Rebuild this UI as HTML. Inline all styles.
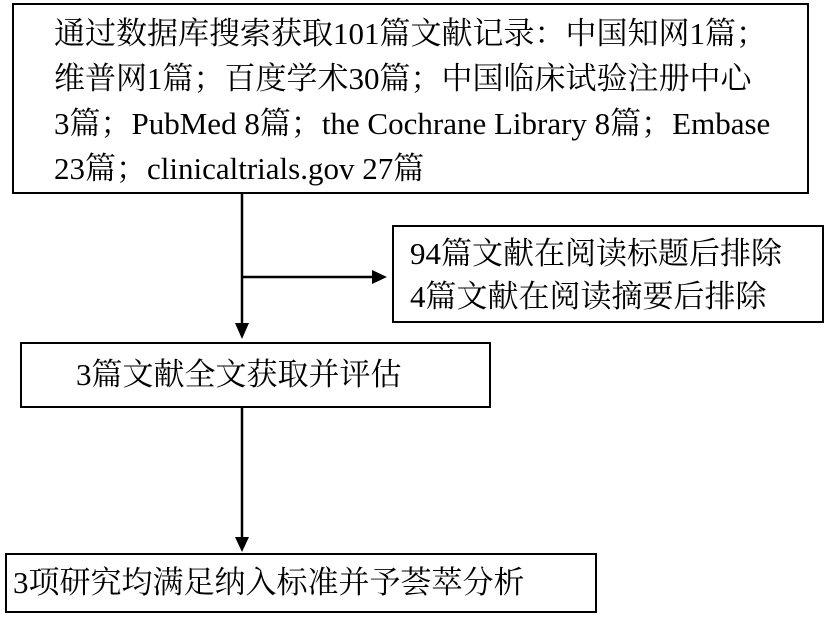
<!DOCTYPE html>
<html><head><meta charset="utf-8"><style>
body{margin:0;width:827px;height:618px;background:#fff;position:relative;overflow:hidden;font-family:"Liberation Serif","Noto Serif CJK SC",serif;color:#000}
.b{position:absolute;border:2.5px solid #000;box-sizing:border-box;font-size:31px;white-space:nowrap}
.l{position:absolute;background:#000}
</style></head><body>
<div class="b" style="left:12px;top:3px;width:797px;height:191px;padding:6px 0 0 40px;line-height:45px">通过数据库搜索获取101篇文献记录：中国知网1篇；<br>维普网1篇；百度学术30篇；中国临床试验注册中心<br>3篇；PubMed 8篇；the Cochrane Library 8篇；Embase<br>23篇；clinicaltrials.gov 27篇</div>
<div class="b" style="left:392px;top:225px;width:432px;height:98px;padding:5px 0 0 16px;line-height:43px">94篇文献在阅读标题后排除<br>4篇文献在阅读摘要后排除</div>
<div class="b" style="left:20px;top:342px;width:471px;height:66px;padding:0 0 0 54px;line-height:62px">3篇文献全文获取并评估</div>
<div class="b" style="left:5px;top:553px;width:592px;height:60px;padding:0 0 0 6px;line-height:56px">3项研究均满足纳入标准并予荟萃分析</div>
<svg style="position:absolute;left:0;top:0" width="827" height="618">
<g stroke="#000" stroke-width="2.5" fill="none">
<line x1="242" y1="194" x2="242" y2="326"/>
<line x1="242" y1="277" x2="374" y2="277"/>
<line x1="242" y1="408" x2="242" y2="540"/>
</g>
<g fill="#000">
<polygon points="235,323 249,323 242,339"/>
<polygon points="372,270 372,284 387,277"/>
<polygon points="235,537 249,537 242,552"/>
</g>
</svg>
</body></html>
